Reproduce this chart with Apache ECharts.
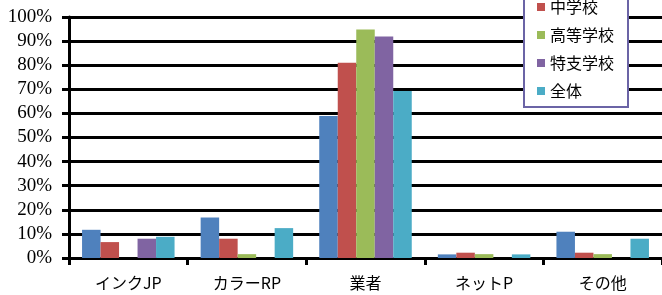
<!DOCTYPE html>
<html>
<head>
<meta charset="utf-8">
<script src="https://cdn.jsdelivr.net/npm/echarts@6/dist/echarts.min.js"></script>
<style>
  html, body { margin: 0; padding: 0; background: #fff; }
  #chart { width: 662px; height: 295px; }
</style>
</head>
<body>
<div id="chart"></div>
<script>
  // 項目
  const categories = ['インクJP', 'カラーRP', '業者', 'ネットP', 'その他']
  const seriesNames = ['小学校', '中学校', '高等学校', '特支学校', '全体']
  // 各校種の割合（%）
  const shogakko = [11.7, 16.8, 58.9, 1.5, 10.9]
  const chugakko = [6.6, 8.0, 81.0, 2.2, 2.2]
  const kotogakko = [0, 1.6, 94.8, 1.6, 1.6]
  const tokushi = [8.0, 0, 91.9, 0, 0]
  const zentai = [8.8, 12.4, 69.3, 1.5, 8.0]
  const yTicks = [0, 10, 20, 30, 40, 50, 60, 70, 80, 90, 100]

  const colors = ['#4F81BD', '#C0504D', '#9BBB59', '#8064A2', '#4BACC6']
  const values = [shogakko, chugakko, kotogakko, tokushi, zentai]

  const chart = echarts.init(document.getElementById('chart'))
  chart.setOption({
    animation: false,
    color: colors,
    grid: { left: 69, top: 17, bottom: 37, width: 597.5 },
    legend: {
      orient: 'vertical',
      left: 524,
      top: -37,
      padding: [7, 14, 7, 13],
      itemWidth: 8,
      itemHeight: 8,
      itemGap: 10,
      icon: 'rect',
      backgroundColor: '#fff',
      borderColor: '#6B64A6',
      borderWidth: 2,
      textStyle: { fontFamily: 'Noto Sans CJK JP', fontSize: 16, color: '#000', lineHeight: 18 },
      data: seriesNames
    },
    xAxis: {
      type: 'category',
      data: categories,
      axisLine: { lineStyle: { color: '#000', width: 3 } },
      axisTick: { show: true, length: 7, lineStyle: { color: '#000', width: 3 } },
      axisLabel: { margin: 17, fontFamily: 'Noto Sans CJK JP', fontSize: 16, color: '#000' }
    },
    yAxis: {
      type: 'value',
      min: yTicks[0],
      max: yTicks[yTicks.length - 1],
      interval: 10,
      axisLine: { show: true, lineStyle: { color: '#000', width: 3 } },
      axisTick: { show: true, length: 7, lineStyle: { color: '#000', width: 3 } },
      splitLine: { lineStyle: { color: '#000', width: 3 } },
      axisLabel: {
        margin: 17,
        formatter: v => '{s|' + v + '%}',
        color: '#000',
        rich: {
          s: { fontFamily: 'Liberation Serif', fontSize: 19, color: '#000' }
        }
      }
    },
    series: seriesNames.map((name, i) => ({
      name: name,
      type: 'bar',
      data: values[i],
      barGap: '0%',
      barCategoryGap: '22%'
    }))
  })
</script>
</body>
</html>
